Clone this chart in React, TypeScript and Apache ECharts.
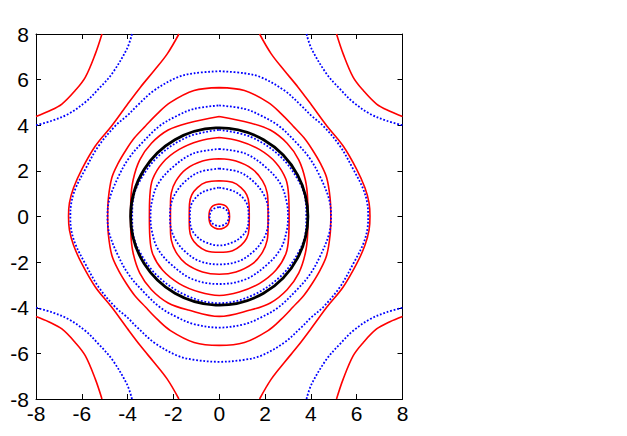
import React, { useEffect, useRef } from "react";
import * as echarts from "echarts";

// Quadrant (x>=0, y>=0) points of each contour.
// Closed contours run from (0, top) to (right, 0).
const red1 = [[0, 0.55], [0.2, 0.5], [0.33, 0.42], [0.42, 0.25], [0.45, 0]];
const red2 = [[0, 1.57], [0.58, 1.5], [0.95, 1.27], [1.2, 0.95], [1.3, 0.55], [1.31, 0]];
const red3 = [[0, 2.53], [0.73, 2.43], [1.46, 2.07], [1.89, 1.56], [2.09, 1.05], [2.13, 0.5], [2.13, 0]];
const red4 = [[0, 3.46], [0.87, 3.31], [1.75, 2.94], [2.47, 2.36], [2.91, 1.63], [3.03, 0.9], [3.05, 0]];
const red5 = [[0, 4.38], [1.35, 4.1], [2.23, 3.79], [2.96, 3.21], [3.47, 2.48], [3.76, 1.6], [3.86, 0.73], [3.87, 0]];
const red6 = [[0, 5.65], [1.1, 5.52], [2.13, 5.0], [2.71, 4.5], [3.22, 3.97], [3.7, 3.45], [4.05, 2.95], [4.41, 2.34], [4.69, 1.7], [4.84, 0.8], [4.87, 0]];
// Open contour: from the top edge down to the x axis
const red7 = [[1.76, 8], [2.27, 7.13], [2.85, 6.39], [3.44, 5.67], [4.02, 4.9], [4.7, 3.97], [5.41, 3.09], [6.0, 2.07], [6.36, 1.26], [6.54, 0.6], [6.58, 0]];
// Corner contour: from the top edge to the right edge
const red8 = [[5.12, 8], [5.41, 7.13], [5.85, 6.1], [6.29, 5.52], [6.87, 4.93], [7.45, 4.61], [8, 4.38]];

const blue1 = [[0, 0.42], [0.3, 0.3], [0.42, 0]];
const blue2 = [[0, 1.27], [0.66, 1.1], [1.05, 0.8], [1.24, 0.46], [1.28, 0]];
const blue3 = [[0, 2.1], [0.87, 1.95], [1.53, 1.5], [1.95, 0.95], [2.13, 0.4], [2.15, 0]];
const blue4 = [[0, 2.96], [1.16, 2.75], [2.1, 2.1], [2.69, 1.4], [2.95, 0.6], [3.0, 0]];
const blue5 = [[0, 3.8], [1.35, 3.5], [2.65, 2.65], [3.5, 1.5], [3.78, 0.6], [3.8, 0]];
const blue6 = [[0, 4.87], [1.1, 4.72], [1.83, 4.42], [2.6, 3.97], [3.39, 3.21], [3.95, 2.55], [4.4, 1.75], [4.8, 0.74], [4.88, 0]];
const blue7 = [[0, 6.37], [1.1, 6.28], [1.83, 6.1], [2.85, 5.52], [3.58, 4.86], [4.02, 4.42], [4.54, 3.97], [5.27, 3.09], [5.85, 2.07], [6.29, 1.19], [6.48, 0.46], [6.5, 0]];
const blue8 = [[3.81, 8], [4.03, 7.35], [4.69, 6.25], [5.27, 5.59], [5.85, 5.01], [6.58, 4.5], [7.3, 4.2], [8, 4.0]];

const circleRadius = 3.87;
const tickValues = [-8, -6, -4, -2, 0, 2, 4, 6, 8];

type P = number[][];
const flipY = (q: P) => q.map(([x, y]) => [x, -y]);
const flipX = (q: P) => q.map(([x, y]) => [-x, y]);
const rev = (q: P) => q.slice().reverse();

function closedLoop(q: P): P {
  const q1 = q;
  const q4 = rev(flipY(q));
  const q3 = flipX(flipY(q));
  const q2 = rev(flipX(q));
  return [...q1, ...q4.slice(1), ...q3.slice(1), ...q2.slice(1)];
}
function openPair(q: P): P[] {
  const right = [...q, ...rev(flipY(q)).slice(1)];
  return [right, flipX(right)];
}
function corners(q: P): P[] {
  return [q, flipX(q), flipY(q), flipX(flipY(q))];
}

const RED = "#ff0000";
const BLUE = "#0000ff";

function lineSeries(data: P, color: string, dotted: boolean, z: number) {
  return {
    type: "line",
    data,
    showSymbol: false,
    symbol: "none",
    smooth: 0.35,
    z,
    silent: true,
    lineStyle: dotted
      ? { color, width: 1.8, type: [1.8, 1.8] }
      : { color, width: 1.6, type: "solid" },
  };
}

export default function App() {
  const ref = useRef<HTMLDivElement>(null);
  useEffect(() => {
    if (!ref.current) return;
    const chart = echarts.init(ref.current, undefined, { renderer: "svg" });
    const series: any[] = [];
    [red1, red2, red3, red4, red5, red6].forEach((q) => series.push(lineSeries(closedLoop(q), RED, false, 2)));
    openPair(red7).forEach((d) => series.push(lineSeries(d, RED, false, 2)));
    corners(red8).forEach((d) => series.push(lineSeries(d, RED, false, 2)));
    [blue1, blue2, blue3, blue4, blue5, blue6, blue7].forEach((q) => series.push(lineSeries(closedLoop(q), BLUE, true, 3)));
    corners(blue8).forEach((d) => series.push(lineSeries(d, BLUE, true, 3)));
    series.push({
      type: "scatter",
      data: [[0, 0]],
      symbol: "circle",
      symbolSize: 10,
      z: 5,
      silent: true,
      itemStyle: { color: "rgba(0,0,0,0)", borderColor: "#000000", borderWidth: 2.8, opacity: 1 },
    });

    const labelStyle = { color: "#000", fontSize: 21, fontFamily: "Liberation Sans, Arial, sans-serif" };
    const baseAxis = {
      type: "value",
      min: -8,
      max: 8,
      interval: 2,
      splitLine: { show: false },
      axisLine: { show: true, onZero: false, lineStyle: { color: "#000", width: 1 } },
      axisTick: { show: true, inside: true, length: 5, lineStyle: { color: "#000", width: 1 } },
    };
    chart.setOption({
      animation: false,
      backgroundColor: "#fff",
      grid: { left: 36, top: 34, width: 366.5, height: 365, containLabel: false },
      xAxis: [
        { ...baseAxis, position: "bottom", axisLabel: { ...labelStyle, margin: 4, formatter: (v: number) => (tickValues.includes(v) ? String(v) : "") } },
        { ...baseAxis, position: "top", axisLabel: { show: false } },
      ],
      yAxis: [
        { ...baseAxis, position: "left", axisLabel: { ...labelStyle, margin: 7, formatter: (v: number) => (tickValues.includes(v) ? String(v) : "") } },
        { ...baseAxis, position: "right", axisLabel: { show: false } },
      ],
      series,
    });
    const p0 = chart.convertToPixel({ xAxisIndex: 0 }, 0) as number;
    const p1 = chart.convertToPixel({ xAxisIndex: 0 }, circleRadius) as number;
    const size = 2 * Math.abs(p1 - p0);
    const n = series.length;
    const upd = series.map((s, i) => (i === n - 1 ? { symbolSize: size } : {}));
    chart.setOption({ series: upd });
    return () => chart.dispose();
  }, []);
  return <div ref={ref} style={{ position: "fixed", left: 0, top: 0, width: 627, height: 436 }} />;
}
